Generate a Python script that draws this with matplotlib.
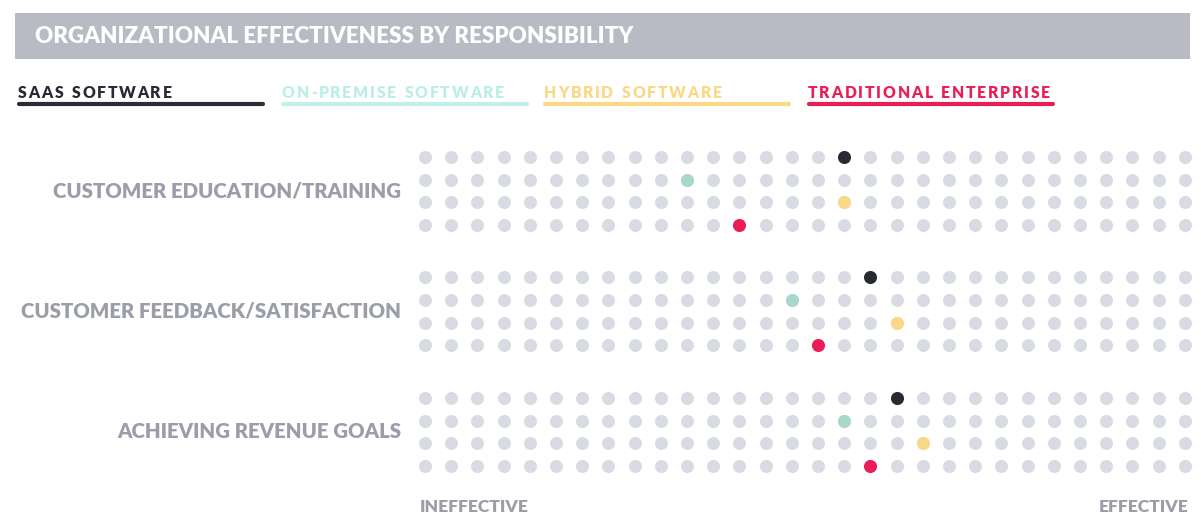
import numpy as np
import matplotlib
matplotlib.use("Agg")
import matplotlib.pyplot as plt

# data
title = "ORGANIZATIONAL EFFECTIVENESS BY RESPONSIBILITY"
series = ["SAAS SOFTWARE", "ON-PREMISE SOFTWARE", "HYBRID SOFTWARE", "TRADITIONAL ENTERPRISE"]
responsibilities = ["CUSTOMER EDUCATION/TRAINING", "CUSTOMER FEEDBACK/SATISFACTION", "ACHIEVING REVENUE GOALS"]
n_steps = 30
# position on the 30-step scale (0 = ineffective, 29 = effective)
saas = [16, 17, 18]
on_premise = [10, 14, 16]
hybrid = [16, 18, 19]
traditional = [12, 15, 17]
scale_labels = ["INEFFECTIVE", "EFFECTIVE"]

dot_colors = ["#272a33", "#a8d8cb", "#f9d886", "#ec1c55"]
legend_text_colors = ["#272a33", "#bdeee6", "#f9d886", "#e91e57"]
legend_line_colors = ["#2a2c36", "#c4f0e9", "#f9d886", "#e91e57"]
grey_dot = "#d9dbe4"
label_grey = "#9b9da8"

W, H = 1201, 527
fig = plt.figure(figsize=(W / 100, H / 100), dpi=100)
bg = fig.add_axes([0, 0, 1, 1])
bg.set_xlim(0, W)
bg.set_ylim(H, 0)
bg.axis("off")
renderer = fig.canvas.get_renderer()


def spaced_text(ax, x, y, s, tracking, **kw):
    # draw a string letter by letter with extra spacing (px)
    for ch in s:
        t = ax.text(x, y, ch, **kw)
        w = t.get_window_extent(renderer=renderer).width
        if ch == " ":
            w = ax.text(0, 0, "a", alpha=0, **kw).get_window_extent(renderer=renderer).width * 0.6
            t.remove()
        x += w + tracking


# title bar
bg.add_patch(plt.Rectangle((15, 13), 1175, 46, color="#b9bbc4", lw=0))
bg.text(35, 36.5, title, color="white", fontsize=16.1, fontweight="heavy",
        family="Lato", va="center", ha="left")

# legend
leg_x = [18, 282, 544, 808]
for i, name in enumerate(series):
    spaced_text(bg, leg_x[i], 93, name, 1.75, color=legend_text_colors[i], fontsize=11.3,
                fontweight="heavy", family="Lato", va="center", ha="left")
    bg.plot([leg_x[i] + 1, leg_x[i] + 245], [104, 104], color=legend_line_colors[i],
            lw=3, solid_capstyle="round")

# dot grid axes: x in steps, y in rows
dx = 26.2
row_h = 22.6
group_h = 120.5
x0_px = 425 - dx / 2
y_top_px = 157 - row_h / 2
n_rows = 4
total_rows = (2 * group_h + 4 * row_h) / row_h
ax = fig.add_axes([x0_px / W, 1 - (y_top_px + total_rows * row_h) / H,
                   n_steps * dx / W, total_rows * row_h / H])
ax.set_xlim(-0.5, n_steps - 0.5)
ax.set_ylim(total_rows - 0.5, -0.5)
ax.axis("off")

values = [saas, on_premise, hybrid, traditional]
xs = np.arange(n_steps)
for g in range(len(responsibilities)):
    for r in range(n_rows):
        y = g * group_h / row_h + r
        ax.scatter(xs, np.full(n_steps, y), s=88, color=grey_dot, lw=0, zorder=2)
        ax.scatter([values[r][g]], [y], s=88, color=dot_colors[r], lw=0, zorder=3)
    bg.text(401, 190.5 + g * group_h, responsibilities[g], color=label_grey, fontsize=14.7,
            fontweight="heavy", family="Lato", ha="right", va="center")

bg.text(420, 507, scale_labels[0], color=label_grey, fontsize=12.6, fontweight="heavy",
        family="Lato", ha="left", va="center")
bg.text(1189, 507, scale_labels[1], color=label_grey, fontsize=12.6, fontweight="heavy",
        family="Lato", ha="right", va="center")

fig.savefig("out.png", dpi=100)
